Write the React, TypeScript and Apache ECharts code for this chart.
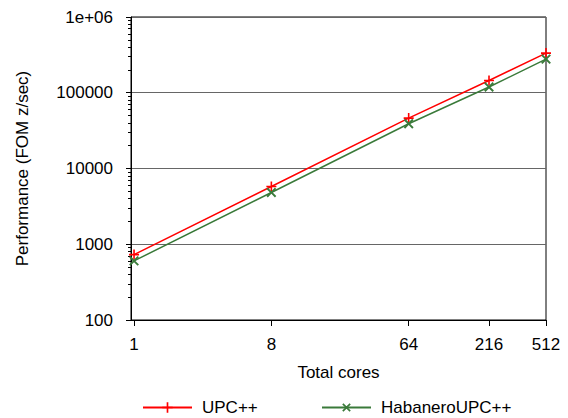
import React, { useEffect, useRef } from 'react';
import * as echarts from 'echarts';

const cores = [1, 8, 64, 216, 512];
const upcxx = [730, 5780, 46300, 145000, 334000];
const habanero = [603, 4820, 39000, 119000, 278000];
const xTickValues = [1, 8, 64, 216, 512];
const yMajorTicks = [100, 1000, 10000, 100000, 1000000];
const yMinorMultipliers = [2, 3, 4, 5, 6, 7, 8, 9];
const seriesNames = ['UPC++', 'HabaneroUPC++'];

const FONT = 'Liberation Sans';
const FS = 17;
const PLUS = 'path://M4.2,0H5.8V4.2H10V5.8H5.8V10H4.2V5.8H0V4.2H4.2Z';

export default function App() {
  const ref = useRef<HTMLDivElement>(null);
  useEffect(() => {
    if (!ref.current) return;
    const chart = echarts.init(ref.current, undefined, { renderer: 'svg' });
    const minor: number[] = [];
    yMajorTicks.slice(0, -1).forEach((d) => yMinorMultipliers.forEach((m) => minor.push(d * m)));
    const textStyle = { fontFamily: FONT, fontSize: FS, color: '#000' };
    const legendBase = {
      top: 399, itemWidth: 49, itemHeight: 13, padding: 0,
      textStyle: { ...textStyle, padding: [0, 0, 0, 5] },
    };
    chart.setOption({
      animation: false,
      backgroundColor: '#fff',
      grid: { left: 131, right: 22, top: 17, bottom: 98, show: true, borderColor: '#000', borderWidth: 1, backgroundColor: 'transparent' },
      legend: [
        { ...legendBase, data: [seriesNames[0]], left: 142 },
        { ...legendBase, data: [seriesNames[1]], left: 321 },
      ],
      xAxis: {
        type: 'log', logBase: 2, min: 0.955, max: 512,
        name: 'Total cores', nameLocation: 'middle', nameGap: 44, nameTextStyle: textStyle,
        axisLine: { show: true, lineStyle: { color: '#000', width: 1 } },
        axisTick: { show: true, inside: false, length: 6, customValues: xTickValues, lineStyle: { color: '#000' } },
        axisLabel: { ...textStyle, margin: 16, customValues: xTickValues, formatter: (v: number) => String(Math.round(v)) },
        splitLine: { show: false },
        minorTick: { show: false },
      },
      yAxis: [
        {
          type: 'log', logBase: 10, min: 100, max: 1000000,
          name: 'Performance (FOM z/sec)', nameLocation: 'middle', nameGap: 100, nameTextStyle: textStyle,
          axisLine: { show: true, lineStyle: { color: '#000', width: 1 } },
          axisTick: { show: true, inside: false, length: 5, customValues: yMajorTicks, lineStyle: { color: '#000' } },
          axisLabel: {
            ...textStyle, margin: 18, customValues: yMajorTicks,
            formatter: (v: number) => (v >= 1000000 ? '1e+06' : String(Math.round(v))),
          },
          splitLine: { show: true, lineStyle: { color: '#666', width: 1 } },
        },
        {
          type: 'log', logBase: 10, min: 100, max: 1000000, position: 'left',
          axisLine: { show: false },
          axisTick: { show: true, inside: false, length: 3, customValues: minor, lineStyle: { color: '#000' } },
          axisLabel: { show: false },
          splitLine: { show: false },
        },
      ],
      series: [
        {
          name: seriesNames[0], type: 'line', yAxisIndex: 0,
          data: cores.map((c, i) => [c, upcxx[i]]),
          symbol: PLUS, symbolSize: 10, showAllSymbol: true,
          lineStyle: { color: '#ff0000', width: 1.5 },
          itemStyle: { color: '#ff0000' },
        },
        {
          name: seriesNames[1], type: 'line', yAxisIndex: 0,
          data: cores.map((c, i) => [c, habanero[i]]),
          symbol: PLUS, symbolSize: 12, symbolRotate: 45, showAllSymbol: true,
          lineStyle: { color: '#3a7a3a', width: 1.5 },
          itemStyle: { color: '#3a7a3a' },
        },
      ],
    });
    return () => chart.dispose();
  }, []);
  return <div ref={ref} style={{ width: 568, height: 418, position: 'absolute', left: 0, top: 0 }} />;
}
